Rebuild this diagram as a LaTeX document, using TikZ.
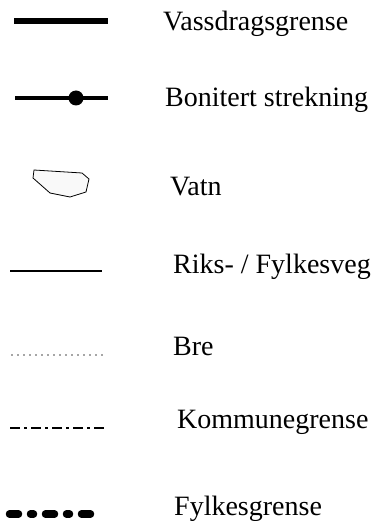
\documentclass[tikz,border=0pt]{standalone}
\usepackage{fontspec}
\setmainfont{Liberation Serif}
\usepackage{tikz}
\usetikzlibrary{positioning}

\begin{document}
\begin{tikzpicture}[x=1pt, y=-1pt,
  lbl/.style={anchor=base west, inner sep=0pt, font=\fontsize{28}{30}\selectfont},
  vassdrag/.style={line width=6pt},
  bonitert/.style={line width=4pt},
  veg/.style={line width=2.8pt},
  bre/.style={line width=1.2pt, gray!70, dash pattern=on 1.5pt off 4.5pt},
  kommune/.style={line width=2.2pt, dash pattern=on 10pt off 4pt on 3pt off 4pt},
  fylke/.style={line width=7.5pt, line cap=round,
                dash pattern=on 9pt off 12pt on 3pt off 12pt},
]
  \useasboundingbox (0,0) rectangle (382,521);

  % legend texts
  \node[lbl] (tvassdrag) at (163,31)  {Vassdragsgrense};
  \node[lbl] (tbonitert) at (165,107) {Bonitert strekning};
  \node[lbl] (tvatn)     at (170,196) {Vatn};
  \node[lbl] (tveg)      at (173,273) {Riks- / Fylkesveg};
  \node[lbl] (tbre)      at (173,355) {Bre};
  \node[lbl] (tkommune)  at (177,428) {Kommunegrense};
  \node[lbl] (tfylke)    at (174,515) {Fylkesgrense};

  % legend symbols
  \draw[vassdrag] (14,21) -- (108,21);
  \draw[bonitert] (15,98) -- (108,98);
  \fill (76,98) circle (7.5);
  \draw[line width=0.8pt, fill=gray!5]
    (34,170) -- (82,173) -- (89,179) -- (86,192) -- (70,197) -- (50,193) -- (33,178) -- cycle;
  \draw[veg] (10,271) -- (102,271);
  \draw[bre] (11,355) -- (105,355);
  \draw[kommune] (10,428) -- (106,428);
  \draw[fylke] (9.5,514) -- (93.5,514);
\end{tikzpicture}
\end{document}
